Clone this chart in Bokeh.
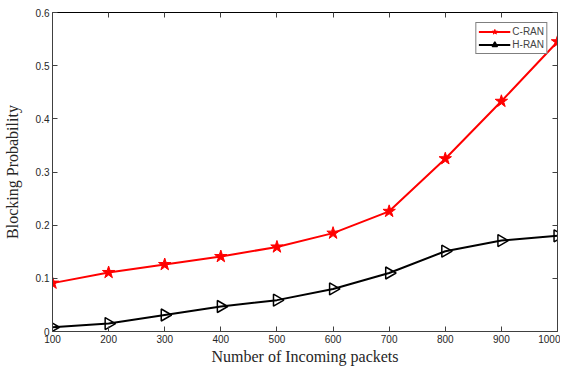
import math
from bokeh.plotting import figure
from bokeh.models import LinearAxis, FixedTicker, Range1d, ColumnDataSource
from bokeh.embed import file_html
from bokeh.resources import INLINE

packets = [100, 200, 300, 400, 500, 600, 700, 800, 900, 1000]
c_ran = [0.091, 0.111, 0.126, 0.141, 0.159, 0.185, 0.226, 0.325, 0.433, 0.545]
h_ran = [0.008, 0.015, 0.031, 0.047, 0.059, 0.080, 0.110, 0.151, 0.171, 0.180]
x_ticks = [100, 200, 300, 400, 500, 600, 700, 800, 900, 1000]
y_ticks = [0, 0.1, 0.2, 0.3, 0.4, 0.5, 0.6]
y_labels = {0: "0", 0.1: "0.1", 0.2: "0.2", 0.3: "0.3", 0.4: "0.4", 0.5: "0.5", 0.6: "0.6"}

p = figure(width=560, height=367, output_backend="svg", toolbar_location=None,
           x_range=Range1d(100, 1000), y_range=Range1d(0, 0.6),
           min_border_left=49, min_border_right=3, min_border_top=12, min_border_bottom=32)
p.xgrid.visible = False
p.ygrid.visible = False
p.outline_line_color = None

axis_col = "#404040"
tick_font = "Liberation Sans"

def style(ax, labels=True):
    ax.axis_line_color = axis_col
    ax.major_tick_line_color = axis_col
    ax.minor_tick_line_color = None
    ax.major_tick_in = 5
    ax.major_tick_out = 0
    ax.major_label_text_font = tick_font
    ax.major_label_text_font_size = "10px"
    ax.major_label_text_color = "#262626"
    ax.major_label_standoff = 3
    if not labels:
        ax.major_label_text_font_size = "0px"
        ax.major_label_text_alpha = 0
        ax.major_label_standoff = 0

p.xaxis.ticker = FixedTicker(ticks=x_ticks)
p.yaxis.ticker = FixedTicker(ticks=y_ticks)
p.yaxis.major_label_overrides = y_labels
style(p.xaxis[0])
style(p.yaxis[0])
p.xaxis.axis_label = "Number of Incoming packets"
p.yaxis.axis_label = "Blocking Probability"
for ax in (p.xaxis[0], p.yaxis[0]):
    ax.axis_label_text_font = "Liberation Serif"
    ax.axis_label_text_font_size = "16px"
    ax.axis_label_text_font_style = "normal"
    ax.axis_label_text_color = "#262626"
p.xaxis.axis_label_standoff = 2
p.yaxis.axis_label_standoff = 12

top = LinearAxis(ticker=FixedTicker(ticks=x_ticks))
style(top, labels=False)
top.axis_line_color = "black"
p.add_layout(top, "above")
right = LinearAxis(ticker=FixedTicker(ticks=y_ticks))
style(right, labels=False)
p.add_layout(right, "right")

src_h = ColumnDataSource(dict(x=packets, y=h_ran, a=[-math.pi / 2] * len(packets)))

p.line(packets, c_ran, color="red", line_width=2, legend_label="C-RAN")
p.scatter(packets, c_ran, marker="star", size=13, color="red", legend_label="C-RAN")
p.line(packets, h_ran, color="black", line_width=2, legend_label="H-RAN")
p.scatter("x", "y", source=src_h, marker="triangle", angle="a", size=12,
          line_color="black", line_width=1.5, fill_alpha=0, legend_label="H-RAN")

lg = p.legend[0]
lg.location = "top_right"
lg.margin = 10
lg.padding = 2
lg.spacing = 0
lg.glyph_width = 32
lg.glyph_height = 13
lg.label_height = 13
lg.label_standoff = 2
lg.label_text_font = tick_font
lg.label_text_font_size = "10px"
lg.border_line_color = "black"
lg.border_line_width = 1
lg.background_fill_alpha = 1

open("out.html", "w").write(file_html(p, INLINE))
